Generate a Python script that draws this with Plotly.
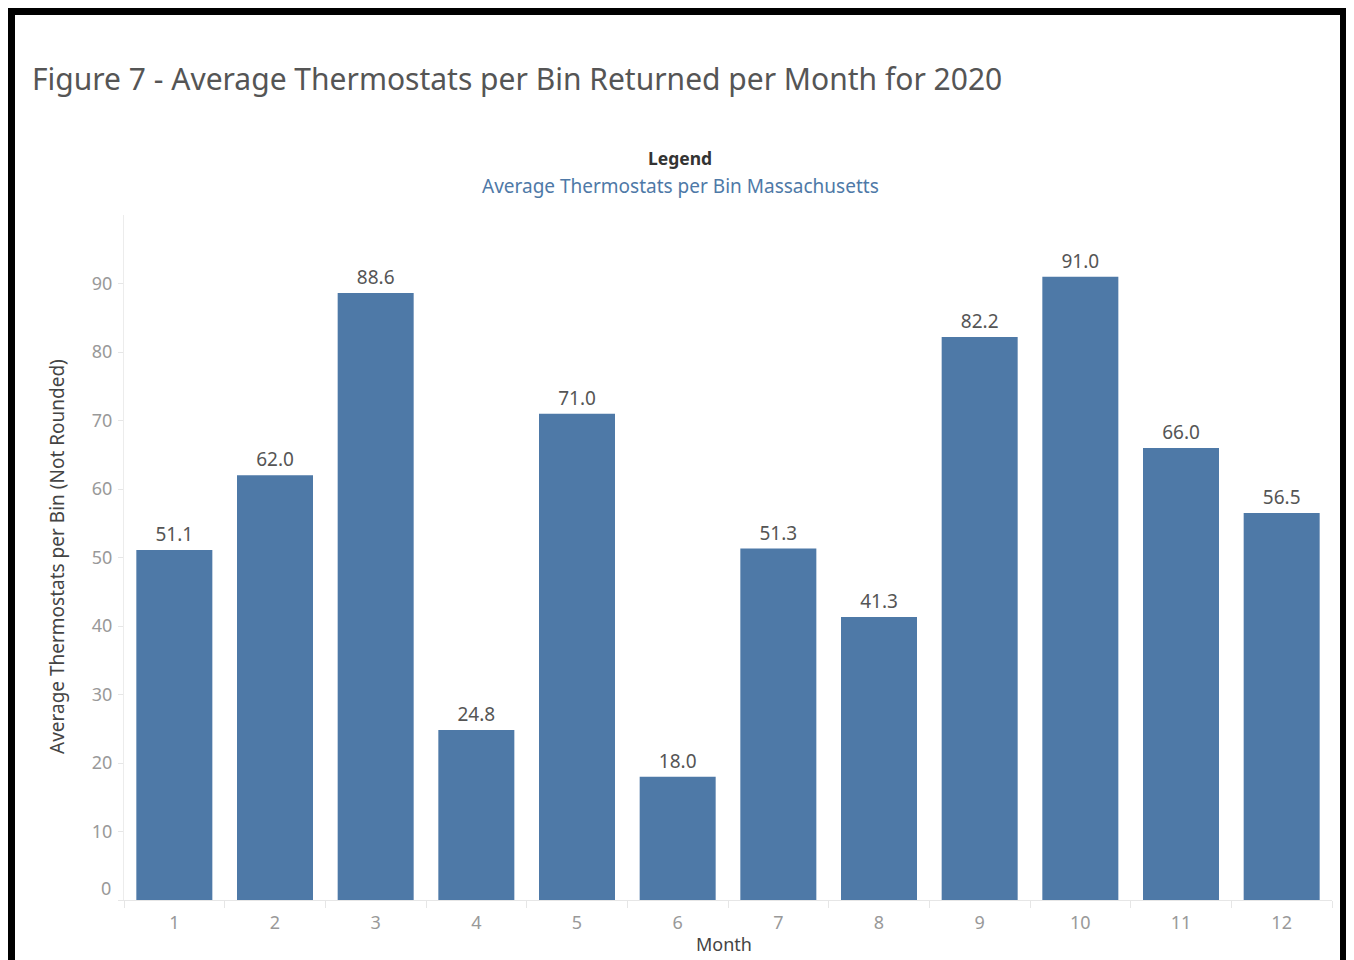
import plotly.graph_objects as go

months = [str(m) for m in range(1, 13)]
values = [51.1, 62.0, 88.6, 24.8, 71.0, 18.0, 51.3, 41.3, 82.2, 91.0, 66.0, 56.5]
y_ticks = [0, 10, 20, 30, 40, 50, 60, 70, 80, 90]

OFF = 8  # page body margin
W, H = 1346, 952
L, R, T, B = 116, 22, 207, 60
pw, ph = W - L - R, H - T - B


def px(x):
    return (x - OFF - L) / pw


def py(y):
    return (H - B - (y - OFF)) / ph


FONT = "Noto Sans"
fig = go.Figure(go.Bar(
    x=months, y=values,
    marker=dict(color="#4e79a7", line=dict(width=0)),
    width=0.755,
    text=[f"{v:.1f}" for v in values],
    textposition="outside",
    textfont=dict(family=FONT, size=19, color="#555555"),
    cliponaxis=False,
))

fig.update_layout(
    width=W, height=H,
    margin=dict(l=L, r=R, t=T, b=B),
    paper_bgcolor="white", plot_bgcolor="white",
    showlegend=False,
    font=dict(family=FONT),
    xaxis=dict(
        type="category", showgrid=False, showline=True, linecolor="#e6e6e6",
        ticks="outside", tickson="boundaries", ticklen=7, tickcolor="#e6e6e6",
        ticklabelstandoff=6,
        tickfont=dict(family=FONT, size=18, color="#999999"),
    ),
    yaxis=dict(
        range=[0, 100], tickvals=y_ticks,
        ticktext=["" if v == 0 else str(v) for v in y_ticks],
        showgrid=False, zeroline=False,
        showline=True, linecolor="#ececec",
        ticks="outside", ticklen=5, tickcolor="#e6e6e6",
        ticklabelstandoff=2,
        tickfont=dict(family=FONT, size=18, color="#999999"),
    ),
    bargap=0.245,
)

# zero tick label, nudged upward as in the reference
fig.add_annotation(xref="paper", yref="y", x=px(113), y=y_ticks[0], yshift=12,
                   xanchor="right", yanchor="middle", showarrow=False,
                   text=str(y_ticks[0]), font=dict(family=FONT, size=18, color="#999999"))

fig.add_annotation(xref="paper", yref="paper", x=px(30), y=py(79),
                   xanchor="left", yanchor="middle", showarrow=False,
                   text="Figure 7 - Average Thermostats per Bin Returned per Month for 2020",
                   font=dict(family=FONT, size=30, color="#555555"))
fig.add_annotation(xref="paper", yref="paper", x=px(680), y=py(158),
                   xanchor="center", yanchor="middle", showarrow=False,
                   text="<b>Legend</b>", font=dict(family=FONT, size=17.5, color="#333333"))
fig.add_annotation(xref="paper", yref="paper", x=px(680), y=py(186),
                   xanchor="center", yanchor="middle", showarrow=False,
                   text="Average Thermostats per Bin Massachusetts",
                   font=dict(family=FONT, size=19, color="#4e79a7"))
fig.add_annotation(xref="paper", yref="paper", x=px(57), y=py(557),
                   xanchor="center", yanchor="middle", showarrow=False, textangle=-90,
                   text="Average Thermostats per Bin (Not Rounded)",
                   font=dict(family=FONT, size=19, color="#444444"))
fig.add_annotation(xref="paper", yref="paper", x=px(724), y=py(944),
                   xanchor="center", yanchor="middle", showarrow=False,
                   text="Month", font=dict(family=FONT, size=18, color="#444444"))

fig.add_shape(type="rect", xref="paper", yref="paper",
              x0=px(11), x1=px(1344), y0=py(966), y1=py(11),
              line=dict(color="black", width=8), fillcolor="rgba(0,0,0,0)", layer="above")

fig.write_html("out.html")
